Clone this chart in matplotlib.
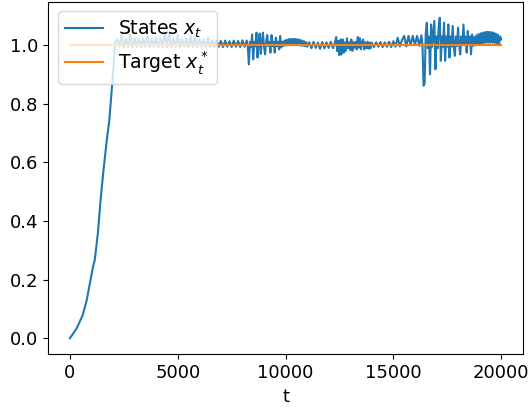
import numpy as np
import matplotlib
matplotlib.use("Agg")
import matplotlib.pyplot as plt

# initial climb towards the target (t, x)
rise_t = [0, 315, 594, 779, 1085, 1150, 1300, 1420, 1549, 1707, 1827, 1985, 2040, 2100]
rise_x = [0.0, 0.034, 0.079, 0.130, 0.249, 0.265, 0.360, 0.470, 0.567, 0.674,
          0.743, 0.890, 0.950, 1.010]

calm_a = [1.020, 0.995, 1.037, 0.993, 1.022, 0.994, 1.037, 0.993, 1.024, 0.995,
          1.022, 0.993, 1.025, 0.994, 1.032, 0.993, 1.022, 0.995, 1.024, 0.993,
          1.026, 0.994, 1.043, 0.992, 1.043, 0.993, 1.024, 0.994, 1.037, 0.993,
          1.022, 0.995, 1.024, 0.993, 1.032, 0.994, 1.032, 0.993, 1.022, 0.995,
          1.020, 0.994, 1.026, 0.995, 1.017, 0.994, 1.016, 0.995, 1.015, 0.994,
          1.016, 0.995, 1.014, 0.994, 1.016, 0.995, 1.015, 0.994, 1.017, 0.995,
          1.016]
burst_a = [0.995, 0.935, 1.012, 0.995, 1.037, 0.952, 1.012, 0.996, 1.043, 0.958,
           1.012, 1.040, 0.971, 1.012, 1.043, 0.996, 0.969, 1.012, 1.035, 0.997,
           1.012, 0.975, 1.035, 0.997, 1.012, 0.975, 1.026, 0.997, 1.012, 0.986]
arch_a = [1.032, 0.992, 1.012, 0.998, 1.016, 0.999, 1.019, 1.000, 1.021, 1.000,
          1.022, 1.001, 1.022, 1.001, 1.022, 1.000, 1.021, 1.000, 1.019, 0.999,
          1.017, 0.998, 1.014, 0.997, 1.011, 0.995]
calm_b = [1.010, 0.990, 1.012, 0.991, 1.009, 0.988, 1.011, 0.990, 1.010, 0.991,
          1.012, 0.990, 1.013]
burst_b = [1.028, 0.980, 1.015, 0.966, 1.020, 0.969, 1.020, 0.975, 1.010, 0.981,
           1.024, 0.990, 1.010, 0.984, 1.020, 0.981, 1.010, 0.992, 1.012, 0.986,
           1.028, 0.992, 1.024, 0.986, 1.010, 1.020, 0.986, 1.010, 0.990, 1.012,
           0.988, 1.010, 0.990, 1.009]
calm_c = [0.994, 1.010, 0.995, 1.011, 0.994, 1.010, 0.995, 1.012, 0.994, 1.014,
          0.995, 1.026, 0.996, 1.018, 1.032, 0.996, 1.032, 1.000, 1.032, 1.002,
          1.032, 0.998, 1.034]
burst_c = [1.000, 0.862, 0.870, 1.040, 1.077, 0.990, 1.030, 0.901, 1.071, 0.995,
           1.040, 1.083, 0.918, 1.030, 0.990, 1.060, 1.094, 0.947, 1.030, 0.995,
           1.077, 0.947, 1.030, 0.995, 1.071, 0.958, 1.030, 0.995, 1.066, 0.998,
           0.964, 1.030, 0.998, 1.060, 1.000, 0.969, 1.030, 1.000, 1.071, 1.000,
           1.030, 0.975, 1.049, 1.000, 1.030, 0.969, 1.037]
arch_c = [0.998, 1.028, 1.000, 1.034, 1.002, 1.038, 1.004, 1.041, 1.006, 1.043,
          1.008, 1.045, 1.009, 1.046, 1.009, 1.046, 1.009, 1.045, 1.009, 1.043,
          1.008, 1.040, 1.006, 1.036, 1.004, 1.030, 1.020]

stretches = [(2200, 100, calm_a), (8250, 50, burst_a), (9750, 50, arch_a),
             (11100, 100, calm_b), (12350, 50, burst_b), (14100, 100, calm_c),
             (16350, 50, burst_c), (18700, 50, arch_c)]

target_t = [0, 20000]
target_x = [1.0, 1.0]

t = list(rise_t)
x = list(rise_x)
for start, step, vals in stretches:
    t.extend(start + step * np.arange(len(vals)))
    x.extend(vals)

plt.rcParams['font.size'] = 13

fig = plt.figure(figsize=(5.31, 4.08), dpi=100)
ax = fig.add_axes([0.091, 0.1316, 0.8935, 0.8642])
ax.plot(t, x, label=r'States $x_t$')
ax.plot(target_t, target_x, label=r'Target $x_t^*$')
ax.set_xlabel('t')
ax.set_yticks([0.0, 0.2, 0.4, 0.6, 0.8, 1.0])
ax.legend(loc='upper left', fontsize=13.6)

fig.savefig('out.png', dpi=100)
